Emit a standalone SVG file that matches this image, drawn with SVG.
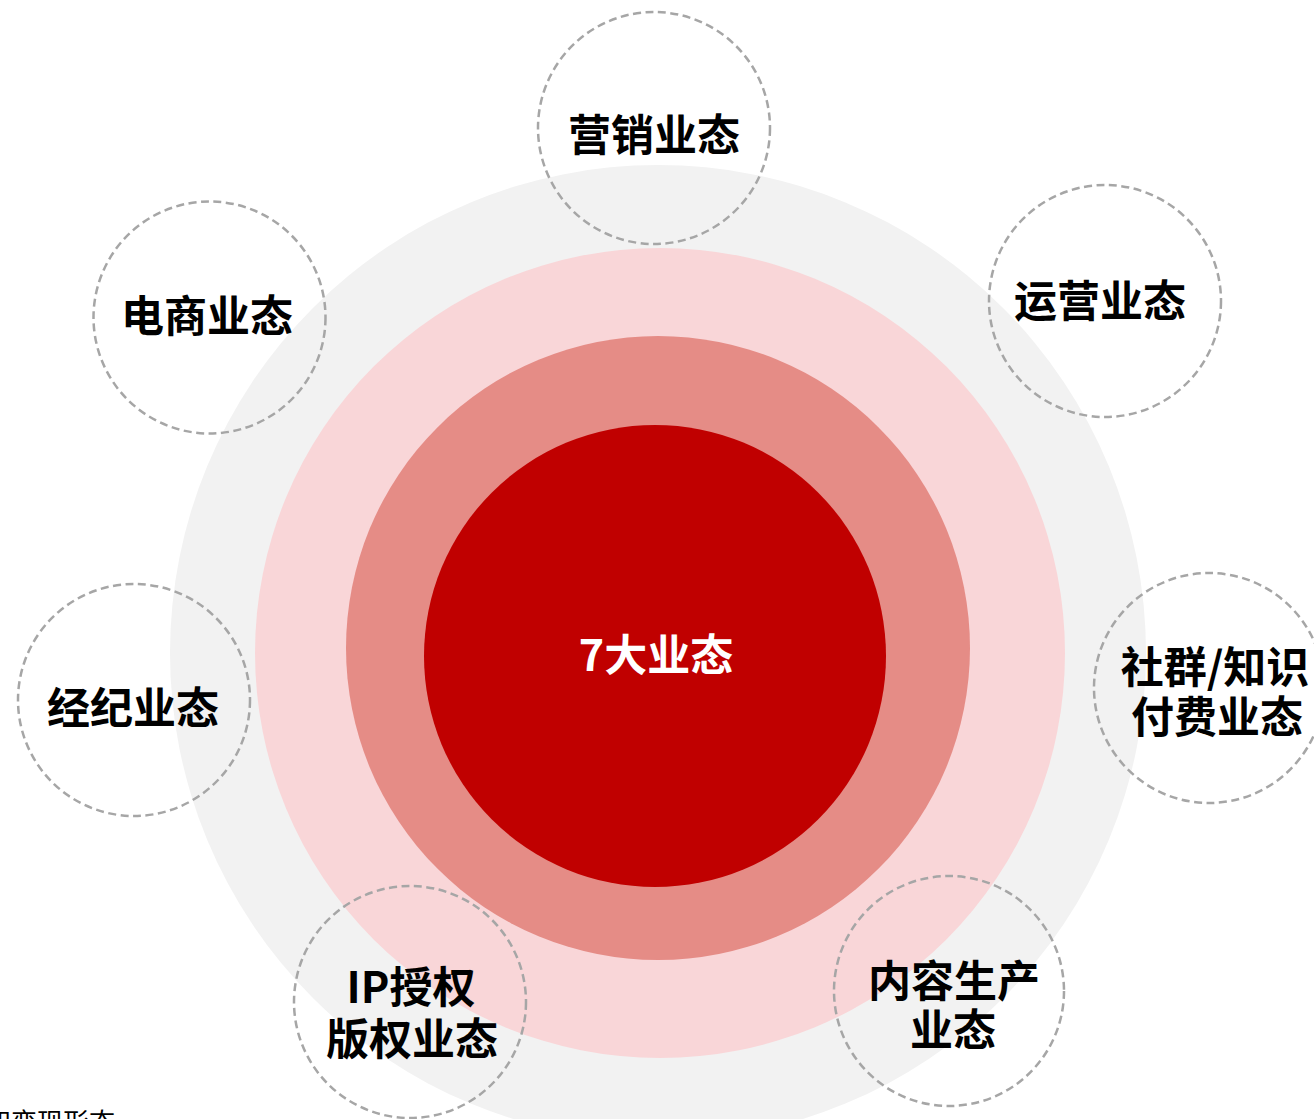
<svg xmlns="http://www.w3.org/2000/svg" width="1314" height="1119" viewBox="0 0 1314 1119">
  <style>
    .ring { stroke: #A6A6A6; stroke-width: 2.5; stroke-dasharray: 8 4.5; fill: none; }
    .lbl { font-family: "Noto Sans CJK SC", "Liberation Sans", sans-serif; font-weight: 700; font-size: 43px; fill: #000000; text-anchor: middle; }
    .center { font-family: "Noto Sans CJK SC", "Liberation Sans", sans-serif; font-weight: 700; font-size: 43px; fill: #FFFFFF; text-anchor: middle; }
    .note { font-family: "Noto Sans CJK SC", "Liberation Sans", sans-serif; font-size: 26px; fill: #000000; }
  </style>
  <rect x="0" y="0" width="1314" height="1119" fill="#FFFFFF"/>
  <g id="core">
    <circle cx="658" cy="653" r="488" fill="#F2F2F2"/>
    <circle cx="660" cy="653" r="405" fill="#F9D6D8"/>
    <circle cx="658" cy="648" r="312" fill="#E58C86"/>
    <circle cx="655" cy="656" r="231" fill="#C00000"/>
    <text class="center" x="656" y="671">7大业态</text>
  </g>
  <g id="connectors"></g>
  <g id="node-yingxiao">
    <circle class="ring" cx="654" cy="128" r="116"/>
    <text class="lbl" x="654" y="151">营销业态</text>
  </g>
  <g id="node-yunying">
    <circle class="ring" cx="1105" cy="301" r="116"/>
    <text class="lbl" x="1100" y="317">运营业态</text>
  </g>
  <g id="node-dianshang">
    <circle class="ring" cx="209.5" cy="317.5" r="116"/>
    <text class="lbl" x="207" y="332">电商业态</text>
  </g>
  <g id="node-jingji">
    <circle class="ring" cx="134" cy="700" r="116"/>
    <text class="lbl" x="133" y="724">经纪业态</text>
  </g>
  <g id="node-shequn">
    <circle class="ring" cx="1209" cy="688" r="115"/>
    <text class="lbl"><tspan x="1215" y="683">社群/知识</tspan><tspan x="1217" y="733">付费业态</tspan></text>
  </g>
  <g id="node-ip">
    <circle class="ring" cx="410" cy="1002" r="116"/>
    <text class="lbl"><tspan x="411" y="1003">IP授权</tspan><tspan x="412" y="1055">版权业态</tspan></text>
  </g>
  <g id="node-neirong">
    <circle class="ring" cx="949" cy="991" r="115"/>
    <text class="lbl"><tspan x="954" y="997">内容生产</tspan><tspan x="953" y="1046">业态</tspan></text>
  </g>
  <text class="note" x="-15" y="1132">知变现形态</text>
</svg>
